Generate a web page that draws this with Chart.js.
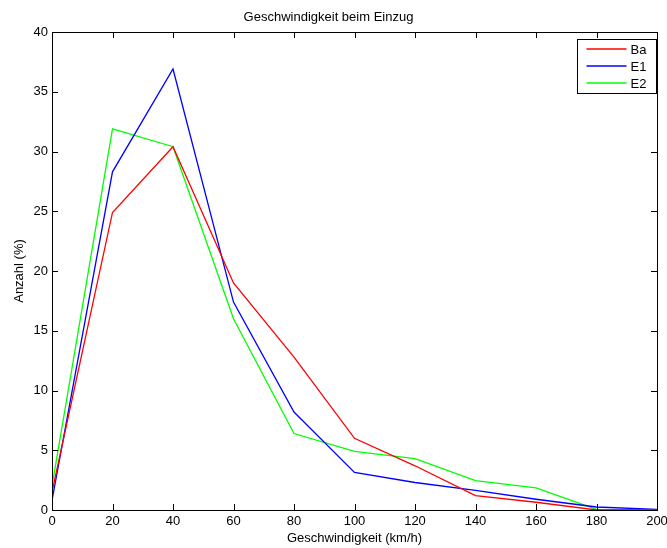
<!DOCTYPE html>
<html>
<head>
<meta charset="utf-8">
<script src="https://cdn.jsdelivr.net/npm/chart.js@4/dist/chart.umd.min.js"></script>
<style>
  html, body { margin: 0; padding: 0; background: #fff; }
  #wrap { width: 667px; height: 548px; }
</style>
</head>
<body>
<div id="wrap"><canvas id="speedChart" width="667" height="548"></canvas></div>
<script>
// speeds in km/h
const speeds = [0, 20, 40, 60, 80, 100, 120, 140, 160, 180, 200];

// share of vehicles in percent per speed class
const baValues = [1.5, 24.9, 30.4, 19.0, 12.8, 6.0, 3.7, 1.2, 0.65, 0.0, 0.0];
const e1Values = [0.8, 28.3, 36.9, 17.4, 8.2, 3.15, 2.3, 1.65, 0.9, 0.25, 0.05];
const e2Values = [2.0, 31.9, 30.4, 16.0, 6.4, 4.9, 4.3, 2.45, 1.85, 0.05, 0.0];

const seriesNames = ["Ba", "E1", "E2"];
const seriesColors = ["#ff0000", "#0000ff", "#00ff00"];

const xTicks = [0, 20, 40, 60, 80, 100, 120, 140, 160, 180, 200];
const yTicks = [0, 5, 10, 15, 20, 25, 30, 35, 40];

const FONT = "'Liberation Sans', Arial, Helvetica, sans-serif";
const FONT_SIZE = 13;

function toPoints(values) {
  return speeds.map((s, i) => ({ x: s, y: values[i] }));
}

// box around the plot with inward tick marks (matlab style)
const boxPlugin = {
  id: "boxTicks",
  afterDatasetsDraw(chart) {
    const ctx = chart.ctx;
    const a = chart.chartArea;
    const xs = chart.scales.x;
    const ys = chart.scales.y;
    const len = 6;
    ctx.save();
    ctx.strokeStyle = "#000";
    ctx.lineWidth = 1;
    ctx.beginPath();
    xTicks.forEach(v => {
      const px = Math.round(xs.getPixelForValue(v)) + 0.5;
      ctx.moveTo(px, a.bottom);
      ctx.lineTo(px, a.bottom - len);
      ctx.moveTo(px, a.top);
      ctx.lineTo(px, a.top + len);
    });
    yTicks.forEach(v => {
      const py = Math.round(ys.getPixelForValue(v)) + 0.5;
      ctx.moveTo(a.left, py);
      ctx.lineTo(a.left + len, py);
      ctx.moveTo(a.right, py);
      ctx.lineTo(a.right - len, py);
    });
    ctx.stroke();
    ctx.strokeRect(Math.round(a.left) + 0.5, Math.round(a.top) + 0.5,
      Math.round(a.right - a.left), Math.round(a.bottom - a.top));
    ctx.restore();
  },
  afterDraw(chart) {
    // legend box in the upper right corner
    const ctx = chart.ctx;
    const a = chart.chartArea;
    const w = 79, h = 54;
    const x0 = Math.round(a.right) - w - 1 + 0.5;
    const y0 = Math.round(a.top) + 7 + 0.5;
    ctx.save();
    ctx.fillStyle = "#fff";
    ctx.fillRect(x0, y0, w, h);
    ctx.strokeStyle = "#000";
    ctx.lineWidth = 1;
    ctx.strokeRect(x0, y0, w, h);
    ctx.font = FONT_SIZE + "px " + FONT;
    ctx.textBaseline = "middle";
    chart.data.datasets.forEach((ds, i) => {
      const y = y0 + 9.5 + i * 17;
      ctx.strokeStyle = ds.borderColor;
      ctx.lineWidth = 1.4;
      ctx.beginPath();
      ctx.moveTo(x0 + 9, y);
      ctx.lineTo(x0 + 49, y);
      ctx.stroke();
      ctx.fillStyle = "#000";
      ctx.fillText(ds.label, x0 + 53, y + 1);
    });
    ctx.restore();
  }
};

const datasets = [baValues, e1Values, e2Values].map((vals, i) => ({
  label: seriesNames[i],
  data: toPoints(vals),
  borderColor: seriesColors[i],
  backgroundColor: seriesColors[i],
  borderWidth: 1.3,
  pointRadius: 0,
  tension: 0,
  fill: false
}));

Chart.defaults.font.family = FONT;
Chart.defaults.font.size = FONT_SIZE;
Chart.defaults.color = "#000";

new Chart(document.getElementById("speedChart"), {
  type: "line",
  data: { datasets: datasets },
  options: {
    responsive: false,
    animation: false,
    layout: { padding: { left: 0, right: 10, top: 0, bottom: 0 } },
    plugins: {
      legend: { display: false },
      tooltip: { enabled: false },
      title: {
        display: true,
        text: "Geschwindigkeit beim Einzug",
        color: "#000",
        font: { size: FONT_SIZE, weight: "normal" },
        padding: { top: 10, bottom: 6.4 }
      }
    },
    scales: {
      x: {
        type: "linear",
        min: 0,
        max: 200,
        afterBuildTicks(scale) {
          scale.ticks = xTicks.map(v => ({ value: v }));
        },
        afterFit(scale) {
          scale.height = 38;
          scale.paddingLeft = 0;
          scale.paddingRight = 0;
        },
        grid: { display: false, drawTicks: false },
        border: { display: false },
        ticks: { padding: 4, maxRotation: 0, autoSkip: false, color: "#000" },
        title: {
          display: true,
          text: "Geschwindigkeit (km/h)",
          color: "#000",
          padding: { top: 0, bottom: 2.2 }
        }
      },
      y: {
        type: "linear",
        min: 0,
        max: 40,
        afterBuildTicks(scale) {
          scale.ticks = yTicks.map(v => ({ value: v }));
        },
        afterFit(scale) {
          scale.width = 52;
          scale.paddingTop = 0;
          scale.paddingBottom = 0;
        },
        grid: { display: false, drawTicks: false },
        border: { display: false },
        ticks: { padding: 4, color: "#000" },
        title: {
          display: true,
          text: "Anzahl (%)",
          color: "#000",
          padding: { top: 12, bottom: 0 }
        }
      }
    }
  },
  plugins: [boxPlugin]
});
</script>
</body>
</html>
